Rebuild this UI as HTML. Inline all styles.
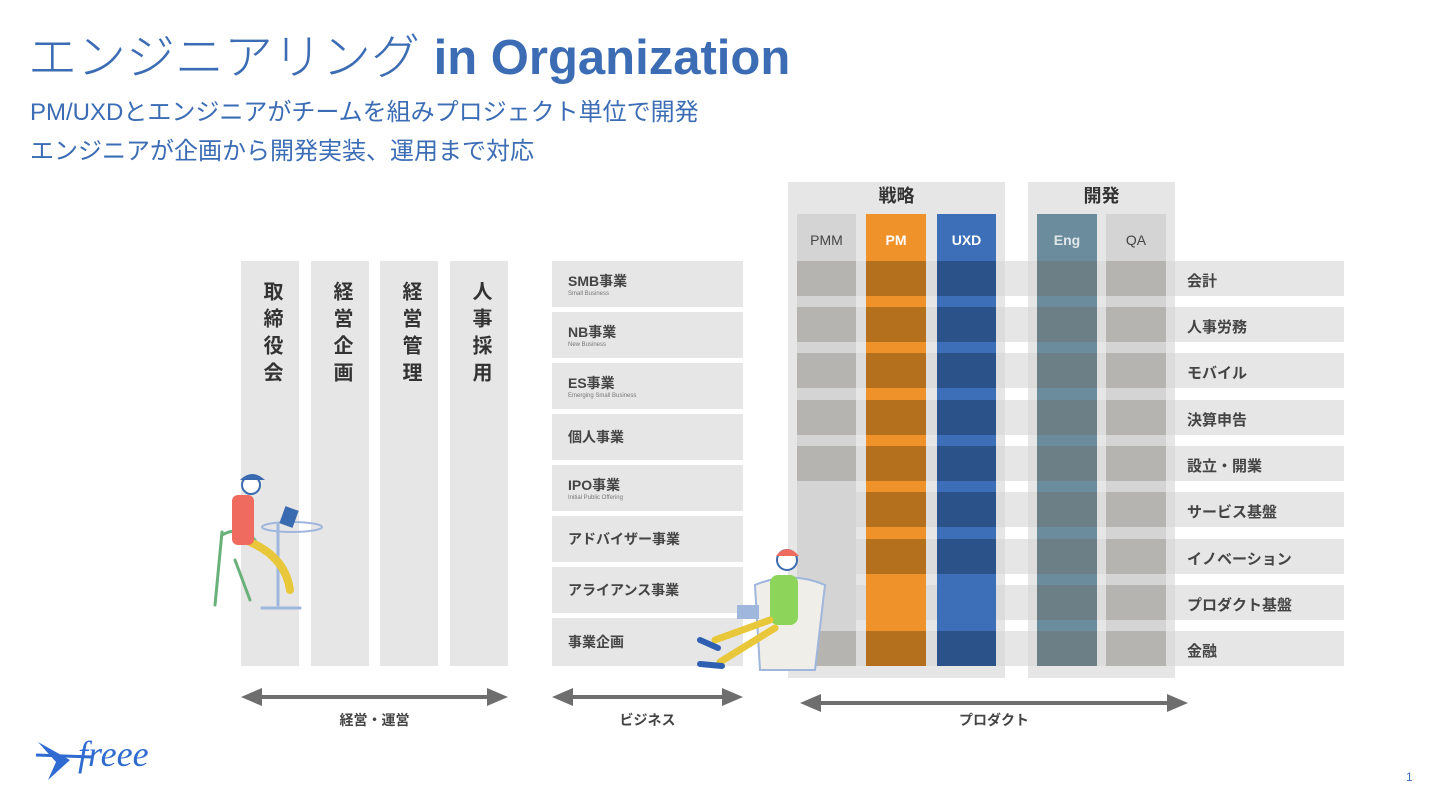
<!DOCTYPE html>
<html><head><meta charset="utf-8"><style>
*{margin:0;padding:0;box-sizing:border-box}
body{width:1440px;height:806px;background:#fff;position:relative;overflow:hidden;font-family:"Liberation Sans","Noto Sans CJK JP",sans-serif}
.a{position:absolute}
.t{color:#3b6cb4}
.g{background:#e6e6e6}
.lbl{font-size:15px;color:#444;font-weight:bold}
.vt{writing-mode:vertical-rl;font-size:20px;font-weight:bold;color:#333;letter-spacing:7px}
.biz{font-size:14px;color:#444;padding-left:16px;display:flex;flex-direction:column;justify-content:center;font-weight:bold}
.biz small{font-size:6px;color:#777;font-weight:normal}
.hd{font-size:14px;text-align:center;line-height:52px}
</style></head><body>
<div class="a t" style="left:28px;top:22px;font-size:49px;white-space:nowrap;line-height:72px"><span style="font-weight:300">エンジニアリング</span> <b>in Organization</b></div>
<div class="a t" style="left:30px;top:97px;font-size:24px;line-height:32px">PM/UXDとエンジニアがチームを組みプロジェクト単位で開発</div>
<div class="a t" style="left:30px;top:136px;font-size:24px;line-height:32px">エンジニアが企画から開発実装、運用まで対応</div>

<!-- left columns -->
<div class="a g" style="left:241px;top:261px;width:58px;height:405px"></div>
<div class="a g" style="left:311px;top:261px;width:58px;height:405px"></div>
<div class="a g" style="left:380px;top:261px;width:58px;height:405px"></div>
<div class="a g" style="left:450px;top:261px;width:58px;height:405px"></div>
<div class="a vt" style="left:257px;top:281px">取締役会</div>
<div class="a vt" style="left:327px;top:281px">経営企画</div>
<div class="a vt" style="left:396px;top:281px">経営管理</div>
<div class="a vt" style="left:466px;top:281px">人事採用</div>

<!-- business -->
<div class="a g biz" style="left:552px;top:261px;width:191px;height:46px">SMB事業<small>Small Business</small></div>
<div class="a g biz" style="left:552px;top:312px;width:191px;height:46px">NB事業<small>New Business</small></div>
<div class="a g biz" style="left:552px;top:363px;width:191px;height:46px">ES事業<small>Emerging Small Business</small></div>
<div class="a g biz" style="left:552px;top:414px;width:191px;height:46px">個人事業</div>
<div class="a g biz" style="left:552px;top:465px;width:191px;height:46px">IPO事業<small>Initial Public Offering</small></div>
<div class="a g biz" style="left:552px;top:516px;width:191px;height:46px">アドバイザー事業</div>
<div class="a g biz" style="left:552px;top:567px;width:191px;height:46px">アライアンス事業</div>
<div class="a g biz" style="left:552px;top:618px;width:191px;height:48px">事業企画</div>

<!-- product boxes -->
<div class="a g" style="left:788px;top:182px;width:217px;height:496px"></div>
<div class="a g" style="left:1028px;top:182px;width:147px;height:496px"></div>
<div class="a" style="left:788px;top:182px;width:217px;text-align:center;font-size:18px;font-weight:bold;color:#333;line-height:28px">戦略</div>
<div class="a" style="left:1028px;top:182px;width:147px;text-align:center;font-size:18px;font-weight:bold;color:#333;line-height:28px">開発</div>

<svg class="a" style="left:0;top:0" width="1440" height="806">
<g fill="#e6e6e6">
<rect x="797" y="261" width="547" height="35"/><rect x="797" y="307" width="547" height="35"/><rect x="797" y="353" width="547" height="35"/><rect x="797" y="400" width="547" height="35"/><rect x="797" y="446" width="547" height="35"/><rect x="797" y="492" width="547" height="35"/><rect x="797" y="539" width="547" height="35"/><rect x="797" y="585" width="547" height="35"/><rect x="797" y="631" width="547" height="35"/>
</g>
<g fill="#dcdcdc">
<rect x="797" y="261" width="208" height="35"/><rect x="797" y="307" width="208" height="35"/><rect x="797" y="353" width="208" height="35"/><rect x="797" y="400" width="208" height="35"/><rect x="797" y="446" width="208" height="35"/><rect x="797" y="492" width="208" height="35"/><rect x="797" y="539" width="208" height="35"/><rect x="797" y="585" width="208" height="35"/><rect x="797" y="631" width="208" height="35"/>
<rect x="1028" y="261" width="147" height="35"/><rect x="1028" y="307" width="147" height="35"/><rect x="1028" y="353" width="147" height="35"/><rect x="1028" y="400" width="147" height="35"/><rect x="1028" y="446" width="147" height="35"/><rect x="1028" y="492" width="147" height="35"/><rect x="1028" y="539" width="147" height="35"/><rect x="1028" y="585" width="147" height="35"/><rect x="1028" y="631" width="147" height="35"/>
</g>
<rect x="797" y="214" width="59" height="452" fill="#d4d4d4"/>
<rect x="866" y="214" width="60" height="452" fill="#f0922a"/>
<rect x="937" y="214" width="59" height="452" fill="#3d6fb8"/>
<rect x="1037" y="214" width="60" height="452" fill="#6b8c9c"/>
<rect x="1106" y="214" width="60" height="452" fill="#d4d4d4"/>
<g fill="#b5b4b0"><rect x="797" y="261" width="59" height="35"/><rect x="797" y="307" width="59" height="35"/><rect x="797" y="353" width="59" height="35"/><rect x="797" y="400" width="59" height="35"/><rect x="797" y="446" width="59" height="35"/><rect x="797" y="631" width="59" height="35"/></g>
<g fill="#b5701e"><rect x="866" y="261" width="60" height="35"/><rect x="866" y="307" width="60" height="35"/><rect x="866" y="353" width="60" height="35"/><rect x="866" y="400" width="60" height="35"/><rect x="866" y="446" width="60" height="35"/><rect x="866" y="492" width="60" height="35"/><rect x="866" y="539" width="60" height="35"/><rect x="866" y="631" width="60" height="35"/></g>
<g fill="#2b538a"><rect x="937" y="261" width="59" height="35"/><rect x="937" y="307" width="59" height="35"/><rect x="937" y="353" width="59" height="35"/><rect x="937" y="400" width="59" height="35"/><rect x="937" y="446" width="59" height="35"/><rect x="937" y="492" width="59" height="35"/><rect x="937" y="539" width="59" height="35"/><rect x="937" y="631" width="59" height="35"/></g>
<g fill="#6c7f87"><rect x="1037" y="261" width="60" height="35"/><rect x="1037" y="307" width="60" height="35"/><rect x="1037" y="353" width="60" height="35"/><rect x="1037" y="400" width="60" height="35"/><rect x="1037" y="446" width="60" height="35"/><rect x="1037" y="492" width="60" height="35"/><rect x="1037" y="539" width="60" height="35"/><rect x="1037" y="585" width="60" height="35"/><rect x="1037" y="631" width="60" height="35"/></g>
<g fill="#b5b4b0"><rect x="1106" y="261" width="60" height="35"/><rect x="1106" y="307" width="60" height="35"/><rect x="1106" y="353" width="60" height="35"/><rect x="1106" y="400" width="60" height="35"/><rect x="1106" y="446" width="60" height="35"/><rect x="1106" y="492" width="60" height="35"/><rect x="1106" y="539" width="60" height="35"/><rect x="1106" y="585" width="60" height="35"/><rect x="1106" y="631" width="60" height="35"/></g>
<g fill="#6e6e6e">
<rect x="255" y="695" width="240" height="4"/><polygon points="241,697 262,688 262,706"/><polygon points="508,697 487,688 487,706"/>
<rect x="566" y="695" width="164" height="4"/><polygon points="552,697 573,688 573,706"/><polygon points="743,697 722,688 722,706"/>
<rect x="815" y="701" width="360" height="4"/><polygon points="800,703 821,694 821,712"/><polygon points="1188,703 1167,694 1167,712"/>
</g>
<g stroke-linecap="round" fill="none">
<path d="M222 532 L215 605 M235 560 L250 600 M222 535 Q240 525 255 540" stroke="#6ab07a" stroke-width="3"/>
<path d="M278 525 L278 605 M262 608 L300 608" stroke="#9fb6dd" stroke-width="3"/>
<ellipse cx="292" cy="527" rx="30" ry="5" stroke="#9fb6dd" stroke-width="2"/>
<path d="M245 540 Q285 555 290 590" stroke="#e8c73a" stroke-width="8"/>
</g>
<rect x="232" y="495" width="22" height="50" rx="6" fill="#ef6b5f"/>
<circle cx="251" cy="485" r="9" fill="#fff" stroke="#3a6ab0" stroke-width="2"/>
<path d="M240 480 Q252 468 265 480 Z" fill="#3a6ab0"/>
<rect x="282" y="508" width="14" height="18" fill="#3a6ab0" transform="rotate(20 289 517)"/>
<path d="M755 585 Q790 570 825 585 L815 670 L760 670 Z" fill="#f0eee8" stroke="#9fb6dd" stroke-width="2"/>
<rect x="770" y="575" width="28" height="50" rx="8" fill="#8dd45a"/>
<circle cx="787" cy="560" r="10" fill="#fff" stroke="#3a6ab0" stroke-width="2"/>
<path d="M776 556 Q787 542 799 556 Z" fill="#ef6b5f"/>
<path d="M770 620 L715 640 M775 628 L720 662" stroke="#e8c73a" stroke-width="7" stroke-linecap="round"/>
<path d="M700 640 L718 648 M700 664 L722 666" stroke="#2f5fb0" stroke-width="6" stroke-linecap="round"/>
<rect x="737" y="605" width="22" height="14" fill="#9fb6dd"/>
<path d="M38 742 L70 760 L48 780 L56 762 Z" fill="#2f6bd0"/>
<path d="M36 755 L92 757" stroke="#2f6bd0" stroke-width="3"/>
</svg>

<div class="a hd" style="left:797px;top:214px;width:59px;color:#444">PMM</div>
<div class="a hd" style="left:866px;top:214px;width:60px;color:#fff;font-weight:bold">PM</div>
<div class="a hd" style="left:937px;top:214px;width:59px;color:#fff;font-weight:bold">UXD</div>
<div class="a hd" style="left:1037px;top:214px;width:60px;color:#dfe6ea;font-weight:bold">Eng</div>
<div class="a hd" style="left:1106px;top:214px;width:60px;color:#444">QA</div>

<div class="a lbl" style="left:1187px;top:270px">会計</div>
<div class="a lbl" style="left:1187px;top:316px">人事労務</div>
<div class="a lbl" style="left:1187px;top:362px">モバイル</div>
<div class="a lbl" style="left:1187px;top:409px">決算申告</div>
<div class="a lbl" style="left:1187px;top:455px">設立・開業</div>
<div class="a lbl" style="left:1187px;top:501px">サービス基盤</div>
<div class="a lbl" style="left:1187px;top:548px">イノベーション</div>
<div class="a lbl" style="left:1187px;top:594px">プロダクト基盤</div>
<div class="a lbl" style="left:1187px;top:640px">金融</div>

<div class="a lbl" style="left:241px;width:267px;text-align:center;top:710px;font-size:14px">経営・運営</div>
<div class="a lbl" style="left:552px;width:191px;text-align:center;top:710px;font-size:14px">ビジネス</div>
<div class="a lbl" style="left:800px;width:388px;text-align:center;top:710px;font-size:14px">プロダクト</div>

<div class="a" style="left:78px;top:733px;font-size:36px;font-style:italic;color:#2f6bd0;font-family:'Liberation Serif',serif">freee</div>
<div class="a" style="left:1406px;top:770px;font-size:12px;color:#3b6cb4">1</div>
</body></html>
